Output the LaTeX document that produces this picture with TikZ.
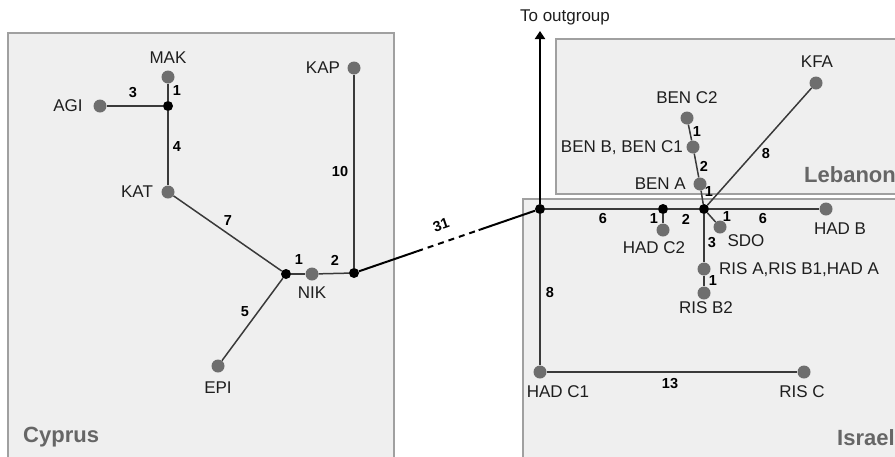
\documentclass[tikz,border=0pt]{standalone}
\usepackage{fontspec}
\setmainfont{Liberation Sans}
\usetikzlibrary{arrows.meta,calc}
\definecolor{boxfill}{HTML}{EFEFEF}
\definecolor{boxline}{HTML}{A0A0A0}
\definecolor{dotgray}{HTML}{6E6E6E}
\definecolor{linegray}{HTML}{3A3A3A}
\definecolor{regiongray}{HTML}{666666}
\definecolor{textdark}{HTML}{1E1E1E}
\begin{document}
\begin{tikzpicture}[x=1pt,y=-1pt,
  hap/.style={circle,fill=dotgray,inner sep=0pt,minimum size=13pt},
  jn/.style={circle,fill=black,inner sep=0pt,minimum size=10pt},
  lbl/.style={font=\fontsize{17}{17}\selectfont,text=textdark,inner sep=0pt,text depth=0pt},
  num/.style={font=\bfseries\fontsize{14.5}{14.5}\selectfont,inner sep=0pt},
  region/.style={font=\bfseries\fontsize{22}{22}\selectfont,text=regiongray,inner sep=0pt},
  thinedge/.style={draw=linegray,line width=1.5pt},
  thickedge/.style={draw=linegray,line width=2.2pt},
  linkedge/.style={draw=black,line width=2pt},
  regionbox/.style={fill=boxfill,draw=boxline,line width=1.3pt}]
\useasboundingbox (0,0) rectangle (895,456);
\clip (0,0) rectangle (895,456);
% region boxes
\path[regionbox] (8,33) rectangle (394,480);
\path[regionbox] (556,39) rectangle (910,194);
\path[regionbox] (523,199) rectangle (910,480);
\node[region,anchor=base west] (cyprus) at (23,442) {Cyprus};
\node[region,anchor=base west] (lebanon) at (804,182) {Lebanon};
\node[region,anchor=base west] (israel) at (837,445) {Israel};
% Cyprus nodes
\node[hap] (MAK) at (168,77) {};
\node[jn]  (J1)  at (168,106) {};
\node[hap] (AGI) at (100,106) {};
\node[hap] (KAT) at (168,192) {};
\node[jn]  (J2)  at (286,274) {};
\node[hap] (NIK) at (312,274) {};
\node[jn]  (J3)  at (354,273) {};
\node[hap] (KAP) at (354,68) {};
\node[hap] (EPI) at (218,366) {};
\node[lbl] (lMAK) at (168,58) {MAK};
\node[lbl] (lAGI) at (68,106) {AGI};
\node[lbl] (lKAT) at (137,192) {KAT};
\node[lbl] (lNIK) at (312,293) {NIK};
\node[lbl] (lKAP) at (323,68) {KAP};
\node[lbl] (lEPI) at (218,388) {EPI};
\draw[thinedge] (MAK) -- (J1);
\draw[thinedge] (AGI) -- (J1);
\draw[thinedge] (J1) -- (KAT);
\draw[thinedge] (KAT) -- (J2);
\draw[thinedge] (J2) -- (NIK);
\draw[thinedge] (NIK) -- (J3);
\draw[thinedge] (KAP) -- (J3);
\draw[thinedge] (EPI) -- (J2);
\node[num] (n3) at (133,93) {3};
\node[num] (n1a) at (177,91) {1};
\node[num] (n4) at (177,147) {4};
\node[num] (n7) at (228,221) {7};
\node[num] (n10) at (340,172) {10};
\node[num] (n1b) at (299,260) {1};
\node[num] (n2a) at (335,260) {2};
\node[num] (n5) at (245,312) {5};
% Israel / Lebanon nodes
\node[jn]  (J4) at (540,209) {};
\node[jn]  (J5) at (663,209) {};
\node[jn]  (J6) at (704,209) {};
\node[hap] (HADC2) at (663,230) {};
\node[hap] (HADB) at (826,209) {};
\node[hap] (SDO) at (720,227) {};
\node[hap] (RISA) at (704,269) {};
\node[hap] (RISB2) at (704,293) {};
\node[hap] (HADC1) at (540,372) {};
\node[hap] (RISC) at (804,372) {};
\node[hap] (BENA) at (700,184) {};
\node[hap] (BENB) at (693,147) {};
\node[hap] (BENC2) at (687,118) {};
\node[hap] (KFA) at (816,83) {};
\coordinate (out) at (540,31);
\node[lbl,anchor=base] (lout) at (565,21) {To outgroup};
\node[lbl] (lHADC2) at (654,248) {HAD C2};
\node[lbl] (lHADB) at (840,229) {HAD B};
\node[lbl] (lSDO) at (746,241) {SDO};
\node[lbl,anchor=west] (lRISA) at (719,269) {RIS A,RIS B1,HAD A};
\node[lbl] (lRISB2) at (706,308) {RIS B2};
\node[lbl] (lHADC1) at (558,392) {HAD C1};
\node[lbl] (lRISC) at (802,392) {RIS C};
\node[lbl,anchor=east] (lBENA) at (686,184) {BEN A};
\node[lbl,anchor=east] (lBENB) at (683,147) {BEN B, BEN C1};
\node[lbl] (lBENC2) at (687,98) {BEN C2};
\node[lbl] (lKFA) at (817,62) {KFA};
\draw[linkedge,-{Triangle[width=10pt,length=8pt]}] (J4) -- (out);
\draw[thickedge] (J4) -- (J5);
\draw[thickedge] (J5) -- (J6);
\draw[thickedge] (J6) -- (HADB);
\draw[thickedge] (J5) -- (HADC2);
\draw[thinedge] (J6) -- (SDO);
\draw[thickedge] (J6) -- (RISA);
\draw[thickedge] (RISA) -- (RISB2);
\draw[thickedge] (J4) -- (HADC1);
\draw[thickedge] (HADC1) -- (RISC);
\draw[thinedge] (J6) -- (BENA);
\draw[thinedge] (BENA) -- (BENB);
\draw[thinedge] (BENB) -- (BENC2);
\draw[thinedge] (J6) -- (KFA);
% link between groups
\coordinate (d1) at ($(J3)!0.34!(J4)$);
\coordinate (d2) at ($(J3)!0.67!(J4)$);
\draw[linkedge] (J3) -- (d1);
\draw[linkedge,dash pattern=on 6pt off 5pt] (d1) -- (d2);
\draw[linkedge] (d2) -- (J4);
\node[num,rotate=19] (n31) at (441,225) {31};
\node[num] (n6a) at (603,219) {6};
\node[num] (n1c) at (654,219) {1};
\node[num] (n2b) at (686,219) {2};
\node[num] (n1d) at (727,217) {1};
\node[num] (n6b) at (763,219) {6};
\node[num] (n3b) at (712,243) {3};
\node[num] (n1e) at (713,281) {1};
\node[num] (n8a) at (550,293) {8};
\node[num] (n13) at (670,384) {13};
\node[num] (n1f) at (697,132) {1};
\node[num] (n2c) at (704,166) {2};
\node[num] (n1g) at (709,192) {1};
\node[num] (n8b) at (766,154) {8};
\end{tikzpicture}
\end{document}
